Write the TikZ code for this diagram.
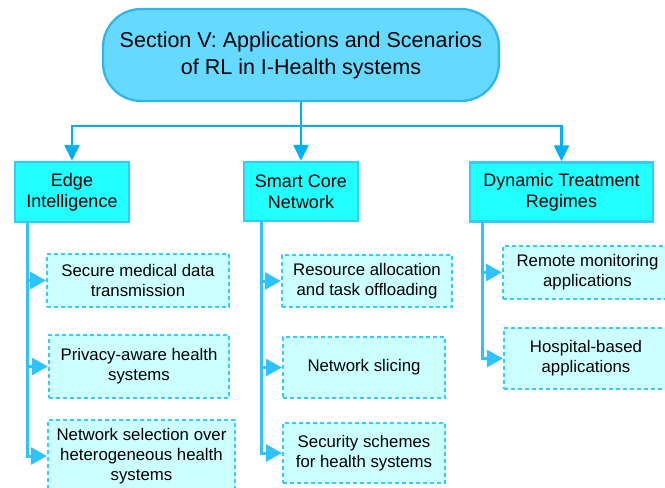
\documentclass[tikz,border=0pt]{standalone}
\usepackage{fontspec}
\setmainfont{Liberation Sans}
\usetikzlibrary{arrows.meta}
\definecolor{titlefill}{HTML}{66D9FF}
\definecolor{titledraw}{HTML}{2DB5EE}
\definecolor{catfill}{HTML}{22FFFF}
\definecolor{catdraw}{HTML}{33CCFF}
\definecolor{subfill}{HTML}{CCFFFF}
\definecolor{subdraw}{HTML}{33CCFF}
\definecolor{toparr}{HTML}{00B0F0}
\definecolor{sidearr}{HTML}{2EC2FF}
\tikzset{
  titlebox/.style={draw=titledraw, fill=titlefill, line width=2.2pt, rounded corners=38pt,
    align=center, inner sep=0pt, font=\fontsize{21.5}{27}\selectfont},
  catbox/.style={draw=catdraw, fill=catfill, line width=2.4pt,
    align=center, inner sep=0pt, font=\fontsize{18}{21}\selectfont},
  subbox/.style={draw=subdraw, fill=subfill, line width=2.2pt, dash pattern=on 4pt off 3pt,
    align=center, inner sep=0pt, font=\fontsize{16.8}{20}\selectfont},
  toparrow/.style={draw=toparr, line width=2.4pt, -{Triangle[length=16pt,width=15pt]}},
  sidearrow/.style={draw=sidearr, line width=3pt, -{Triangle[length=16pt,width=17pt]}},
}
\begin{document}
\begin{tikzpicture}[x=1pt,y=-1pt]
\useasboundingbox (0,0) rectangle (665,488);
\clip (0,0) rectangle (665,488);

\node[titlebox, minimum width=396pt, minimum height=92pt] (title) at (301,55)
  {Section V: Applications and Scenarios\\of RL in I-Health systems};

\node[catbox, minimum width=114pt, minimum height=60pt] (edge) at (72,192) {Edge\\Intelligence};
\node[catbox, minimum width=114pt, minimum height=59pt] (core) at (301,191.5) {Smart Core\\Network};
\node[catbox, minimum width=183pt, minimum height=59pt] (dtr) at (561.5,192) {Dynamic Treatment\\Regimes};

\node[subbox, minimum width=182pt, minimum height=53pt] (e1) at (138,280.5) {Secure medical data\\transmission};
\node[subbox, minimum width=180pt, minimum height=63pt] (e2) at (139,366.5) {Privacy-aware health\\systems};
\node[subbox, minimum width=187pt, minimum height=72pt] (e3) at (141.5,456) {Network selection over\\heterogeneous health\\systems};

\node[subbox, minimum width=170pt, minimum height=52pt] (c1) at (367,281) {Resource allocation\\and task offloading};
\node[subbox, minimum width=162pt, minimum height=61pt] (c2) at (364,367.5) {Network slicing};
\node[subbox, minimum width=162pt, minimum height=60pt] (c3) at (364,453) {Security schemes\\for health systems};

\node[subbox, minimum width=169pt, minimum height=53pt] (d1) at (587.5,272.5) {Remote monitoring\\applications};
\node[subbox, minimum width=164pt, minimum height=61pt] (d2) at (586,358.5) {Hospital-based\\applications};

% top connectors
\coordinate (hub) at (301,126);
\draw[toparrow] (title.south) -- (core.north);
\draw[toparrow] (hub) -| (edge.north);
\draw[toparrow] (hub) -| (dtr.north);

% side connectors
\coordinate (ev) at (27,222);
\coordinate (cv) at (261,221);
\coordinate (dv) at (482,221.5);
\draw[sidearrow] (ev) |- (e1.west);
\draw[sidearrow] (ev) |- (e2.west);
\draw[sidearrow] (ev) |- (e3.west);
\draw[sidearrow] (cv) |- (c1.west);
\draw[sidearrow] (cv) |- (c2.west);
\draw[sidearrow] (cv) |- (c3.west);
\draw[sidearrow] (dv) |- (d1.west);
\draw[sidearrow] (dv) |- (d2.west);
\end{tikzpicture}
\end{document}
